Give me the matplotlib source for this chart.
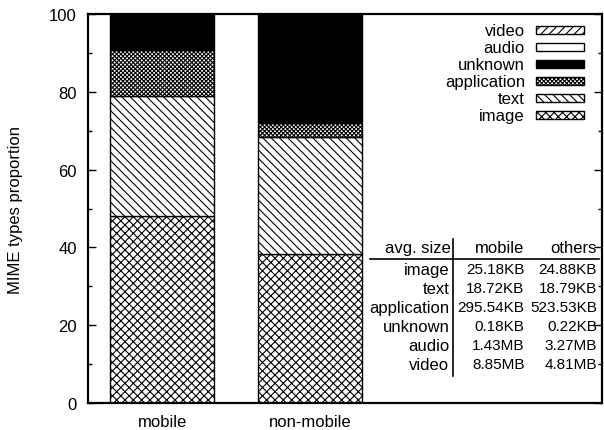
import matplotlib.pyplot as plt
from matplotlib.patches import Rectangle

plt.rcParams['font.family'] = ['Liberation Sans', 'DejaVu Sans']
plt.rcParams['hatch.linewidth'] = 0.8

# data
categories = ['mobile', 'non-mobile']
types = ['image', 'text', 'application', 'unknown', 'audio', 'video']
mobile = [48.2, 30.8, 11.7, 9.3, 0.0, 0.0]
nonmobile = [38.3, 30.0, 3.7, 28.0, 0.0, 0.0]
hatches = ['xxxx', '\\\\\\\\', 'xxxxxxxx', None, None, '////']
fills = ['white', 'white', 'white', 'black', 'white', 'white']

size_mobile = ['25.18KB', '18.72KB', '295.54KB', '0.18KB', '1.43MB', '8.85MB']
size_others = ['24.88KB', '18.79KB', '523.53KB', '0.22KB', '3.27MB', '4.81MB']

fig = plt.figure(figsize=(6.04, 4.31), dpi=100)
ax = fig.add_axes([88/604, 27/431, 514/604, 389/431])

x = list(range(len(categories)))
bottom = [0.0, 0.0]
for i, t in enumerate(types):
    vals = [mobile[i], nonmobile[i]]
    ax.bar(x, vals, 0.7, bottom=bottom, color=fills[i], edgecolor='black',
           linewidth=1, hatch=hatches[i], label=t)
    bottom = [b + v for b, v in zip(bottom, vals)]

ax.set_xlim(-0.5, 2.97)
ax.set_ylim(0, 100)
ax.set_xticks(x)
ax.set_xticklabels(categories, fontsize=12)
ax.set_yticks(range(0, 101, 20))
ax.set_yticks(range(10, 100, 20), minor=True)
ax.tick_params(axis='y', which='both', direction='in', right=True, labelsize=12, pad=8)
ax.tick_params(axis='y', which='major', length=6, width=1)
ax.tick_params(axis='y', which='minor', length=3, width=1)
ax.tick_params(axis='x', length=0, pad=8)
for s in ax.spines.values():
    s.set_linewidth(1.6)
ax.set_ylabel('MIME types proportion', fontsize=12)
ax.yaxis.set_label_coords(-0.126, 0.5)

# legend (reverse order, labels right-aligned, keys on the right)
for k, i in enumerate(reversed(range(len(types)))):
    yc = 0.958 - k * 0.0437
    ax.text(0.850, yc, types[i], transform=ax.transAxes, ha='right', va='center', fontsize=12)
    ax.add_patch(Rectangle((0.872, yc - 0.0105), 0.093, 0.021, transform=ax.transAxes,
                           facecolor=fills[i], edgecolor='black', linewidth=1,
                           hatch=hatches[i], clip_on=False))

# table of average sizes
ax.text(0.705, 0.401, 'avg. size', transform=ax.transAxes, ha='right', va='center', fontsize=12)
ax.text(0.849, 0.401, 'mobile', transform=ax.transAxes, ha='right', va='center', fontsize=12)
ax.text(0.990, 0.401, 'others', transform=ax.transAxes, ha='right', va='center', fontsize=12)
ax.plot([0.548, 0.994], [0.370, 0.370], color='black', lw=1.2, transform=ax.transAxes)
ax.plot([0.710, 0.710], [0.069, 0.422], color='black', lw=1.2, transform=ax.transAxes)
for i, t in enumerate(types):
    yc = 0.344 - i * 0.0488
    ax.text(0.703, yc, t, transform=ax.transAxes, ha='right', va='center', fontsize=12)
    ax.text(0.849, yc, size_mobile[i], transform=ax.transAxes, ha='right', va='center', fontsize=11)
    ax.text(0.990, yc, size_others[i], transform=ax.transAxes, ha='right', va='center', fontsize=11)

fig.savefig('out.png', dpi=100)
